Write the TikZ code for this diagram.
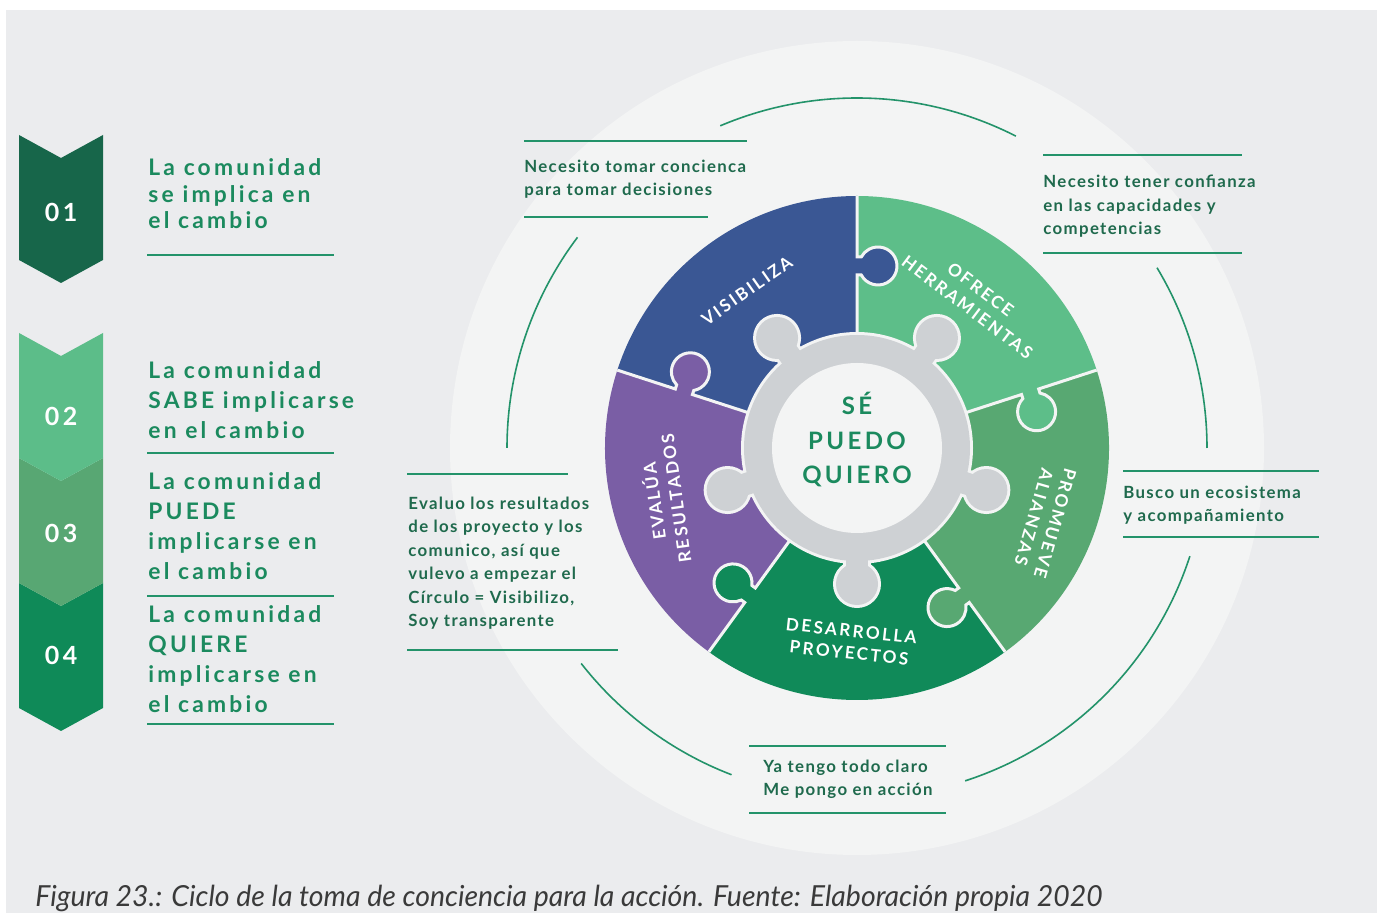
\documentclass[tikz,border=0pt]{standalone}
\usepackage{fontspec}
\setmainfont{Lato}
\newfontfamily\wideLato[LetterSpace=14]{Lato}
\newfontfamily\midLato[LetterSpace=8]{Lato}
\usepackage{graphicx}
\usetikzlibrary{calc}

\definecolor{panel}{HTML}{EBECEE}
\definecolor{halo}{HTML}{F3F4F4}
\definecolor{txtgreen}{HTML}{1B8A5E}
\definecolor{calgreen}{HTML}{1F6A4D}
\definecolor{linegreen}{HTML}{23936A}
\definecolor{visblue}{HTML}{3A5794}
\definecolor{ofrgreen}{HTML}{5DBE89}
\definecolor{progreen}{HTML}{58A872}
\definecolor{desgreen}{HTML}{108A59}
\definecolor{evapurple}{HTML}{7A5EA5}
\definecolor{ringgrey}{HTML}{CED1D4}
\definecolor{chevA}{HTML}{17664A}
\definecolor{chevB}{HTML}{5CBD89}
\definecolor{chevC}{HTML}{58A773}
\definecolor{chevD}{HTML}{0F8A58}
\definecolor{captgrey}{HTML}{3A3A3A}

\begin{document}
\begin{tikzpicture}[x=0.5pt, y=0.5pt,
    lefttxt/.style={font=\wideLato\bfseries\fontsize{11.4}{15}\selectfont, text=txtgreen,
        align=left, anchor=north west, inner sep=0pt},
    calltxt/.style={font=\midLato\bfseries\fontsize{8.4}{11.75}\selectfont, text=calgreen,
        align=left, anchor=north west, inner sep=0pt},
    numtxt/.style={font=\wideLato\bfseries\fontsize{12.5}{15}\selectfont, text=white},
    puzlbl/.style={font=\wideLato\bfseries\fontsize{8.6}{11}\selectfont, text=white,
        align=center, inner sep=0pt},
    coretxt/.style={font=\wideLato\bfseries\fontsize{12}{17.25}\selectfont, text=txtgreen,
        align=center, inner sep=0pt},
    uline/.style={draw=linegreen, line width=1.25pt},
    arcline/.style={draw=linegreen, line width=0.8pt},
    sepline/.style={draw=halo, line width=1.5pt}]

    \useasboundingbox (0,0) rectangle (1377,-913);
    \fill[white] (0,0) rectangle (1377,-913);
    \fill[panel] (6,-10) rectangle (1377,-913);

    % chevrons on the left
    \foreach \n/\tp/\bt/\col/\ny in {04/583/708/chevD/655, 03/458/583/chevC/533,
            02/333/458/chevB/416, 01/135/260/chevA/212}{
        \fill[\col] (19,-\tp) -- (61,-\tp-23) -- (103,-\tp) -- (103,-\bt)
            -- (61,-\bt-23) -- (19,-\bt) -- cycle;
        \node[numtxt] (num\n) at (61,-\ny) {\n};
    }

    \node[lefttxt, font=\wideLato\bfseries\fontsize{11.4}{13.25}\selectfont] (step01) at (148,-158.5)
        {La comunidad\\se implica en\\el cambio};
    \node[lefttxt] (step02) at (148,-361.5) {La comunidad\\SABE implicarse\\en el cambio};
    \node[lefttxt] (step03) at (148,-472.5) {La comunidad\\PUEDE\\implicarse en\\el cambio};
    \node[lefttxt] (step04) at (148,-605.5) {La comunidad\\QUIERE\\implicarse en\\el cambio};
    \draw[uline] (147,-255) -- (334,-255);
    \draw[uline] (147,-453) -- (334,-453);
    \draw[uline] (147,-596) -- (334,-596);
    \draw[uline] (147,-724) -- (334,-724);

    % the cycle
    \begin{scope}[shift={(857,-448)}]
        \fill[halo] (0,0) circle[radius=407];
        \draw[arcline] (63:350) arc[start angle=63, end angle=113, radius=350];
        \draw[arcline] (0:350) arc[start angle=0, end angle=31, radius=350];
        \draw[arcline] (-72:350) arc[start angle=-72, end angle=-18, radius=350];
        \draw[arcline] (218:350) arc[start angle=218, end angle=249, radius=350];
        \draw[arcline] (143:350) arc[start angle=143, end angle=180, radius=350];

        \foreach \a/\col in {90/visblue, 18/ofrgreen, -54/progreen, -126/desgreen, -198/evapurple}
            \fill[\col] (0,0) -- (\a:252) arc[start angle=\a, delta angle=72, radius=252] -- cycle;
        \foreach \a/\col in {90/visblue, 18/ofrgreen, -54/progreen, -126/desgreen, -198/evapurple}
            \fill[\col, rotate=\a] (173,1.5) -- (173,-4.27)
                arc[start angle=118.3, end angle=421.7, radius=19] -- (191,1.5) -- cycle;
        \foreach \a in {90,18,-54,-126,-198}
            \draw[sepline, rotate=\a] (100,0) -- (173,0) -- (173,-4.27)
                arc[start angle=118.3, end angle=421.7, radius=19] -- (191,0) -- (252,0);

        \foreach \k in {-90,-18,54,126,198}{
            \draw[halo, line width=3pt] (\k:136) circle[radius=21];
            \draw[halo, line width=3pt, rotate=\k] (100,-11) rectangle (136,11);
        }
        \draw[halo, line width=3pt] (0,0) circle[radius=113];
        \foreach \k in {-90,-18,54,126,198}{
            \fill[ringgrey] (\k:136) circle[radius=21];
            \fill[ringgrey, rotate=\k] (100,-11) rectangle (136,11);
        }
        \fill[ringgrey] (0,0) circle[radius=113];
        \fill[halo] (0,0) circle[radius=85];

        \node[puzlbl, rotate=35] (visib) at (125:192) {VISIBILIZA};
        \node[puzlbl, rotate=-37] (ofrece) at (52:190) {OFRECE\\HERRAMIENTAS};
        \node[puzlbl, rotate=-106] (promu) at (-21:201) {PROMUEVE\\ALIANZAS};
        \node[puzlbl, rotate=-6] (desar) at (-92:194) {DESARROLLA\\PROYECTOS};
        \node[puzlbl, rotate=98] (evalua) at (195:200) {EVALÚA\\RESULTADOS};
        \node[coretxt] (core) at (0,8) {SÉ\\PUEDO\\QUIERO};
    \end{scope}

    % callouts
    \node[calltxt] (need1) at (524,-159.6) {Necesito tomar concienca\\para tomar decisiones};
    \draw[uline] (524,-141) -- (747,-141);
    \draw[uline] (524,-217) -- (708,-217);
    \node[calltxt] (need2) at (1043,-174.6) {Necesito tener confianza\\en las capacidades y\\competencias};
    \draw[uline] (1043,-155) -- (1242,-155);
    \draw[uline] (1043,-253) -- (1242,-253);
    \node[calltxt] (seek) at (1123,-485.6) {Busco un ecosistema\\y acompañamiento};
    \draw[uline] (1123,-471) -- (1319,-471);
    \draw[uline] (1123,-537) -- (1319,-537);
    \node[calltxt] (ready) at (763,-759.6) {Ya tengo todo claro\\Me pongo en acción};
    \draw[uline] (749,-746) -- (946,-746);
    \draw[uline] (749,-813) -- (946,-813);
    \node[calltxt] (review) at (408,-496.6) {Evaluo los resultados\\de los proyecto y los\\comunico, así que\\vulevo a empezar el\\Círculo = Visibilizo,\\Soy transparente};
    \draw[uline] (407,-474) -- (568,-474);
    \draw[uline] (407,-650) -- (618,-650);

    \node[anchor=base west, inner sep=0pt, text=captgrey, font=\itshape\fontsize{14.5}{17}\selectfont]
        (caption) at (35,-907) {\scalebox{0.98}[1]{Figura 23.: Ciclo de la toma de conciencia para la acción. Fuente: Elaboración propia 2020}};
\end{tikzpicture}
\end{document}
